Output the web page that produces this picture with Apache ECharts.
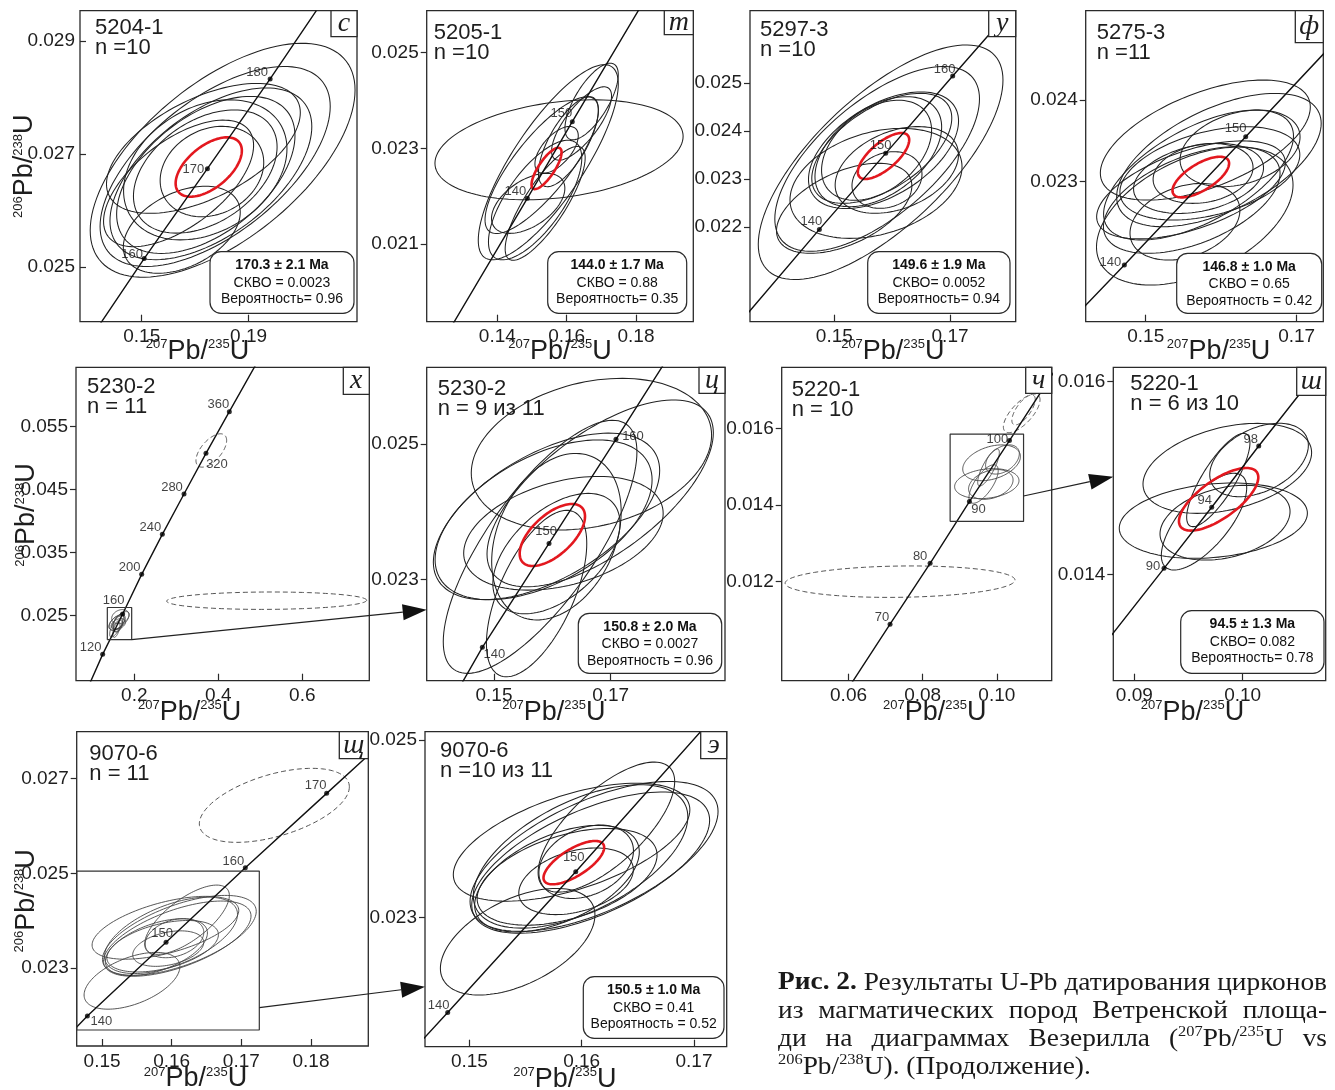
<!DOCTYPE html>
<html><head><meta charset="utf-8">
<script src="https://cdn.jsdelivr.net/npm/echarts@6/dist/echarts.min.js"></script>
<style>html,body{margin:0;padding:0;background:#fff}#chart{width:1335px;height:1090px}</style>
</head><body><div id="chart"></div>
<script>
// ================= DATA =================
// ellipse rows: [center 207Pb/235U, center 206Pb/238U, half-width x, half-height y, correlation]

// --- с : 5204-1
const cXRange = [0.12688, 0.23063], cYRange = [0.024032, 0.029537];
const cXTicks = ['0.15', '0.19'], cYTicks = ['0.025', '0.027', '0.029'];
const cAges = [160, 170, 180];
const cAgePts = [[0.1509, 0.02515], [0.1746, 0.02674], [0.1981, 0.02833]];
const cLineEnds = [[0.1317, 0.0238], [0.2154, 0.02954]];
const cEllipses = [
  [0.1803, 0.02689, 0.0496, 0.00207, 0.6], [0.1775, 0.02678, 0.0431, 0.00177, 0.6],
  [0.1759, 0.02665, 0.0378, 0.00152, 0.55], [0.1740, 0.02663, 0.0334, 0.00139, 0.5],
  [0.1738, 0.02672, 0.0306, 0.00124, 0.3], [0.1738, 0.02669, 0.0269, 0.00109, 0.4],
  [0.1763, 0.02669, 0.0194, 0.00080, 0.2], [0.1638, 0.02648, 0.0281, 0.00112, 0.6],
  [0.1650, 0.02566, 0.0219, 0.00077, 0.4], [0.1731, 0.02710, 0.0363, 0.00115, 0.55]];
const cMean = [0.1751, 0.02677, 0.0124, 0.000525, 0.55];
const cResult = ['170.3 ± 2.1 Ma', 'СКВО = 0.0023', 'Вероятность= 0.96'];

// --- т : 5205-1
const mXRange = [0.11962, 0.19654], mYRange = [0.019376, 0.025878];
const mXTicks = ['0.14', '0.16', '0.18'], mYTicks = ['0.021', '0.023', '0.025'];
const mAges = [140, 150];
const mAgePts = [[0.14865, 0.021955], [0.16163, 0.023557]];
const mLineEnds = [[0.1245, 0.0190], [0.1833, 0.0262]];
const mEllipses = [
  [0.1578, 0.02297, 0.0358, 0.001045, 0.27], [0.1547, 0.02271, 0.0202, 0.00204, 0.8],
  [0.1528, 0.02265, 0.01635, 0.00143, 0.8], [0.1509, 0.02192, 0.01346, 0.00125, 0.7],
  [0.1489, 0.02185, 0.01058, 0.000627, 0.5], [0.1571, 0.02297, 0.00625, 0.000488, 0.6],
  [0.1605, 0.02314, 0.00865, 0.000941, 0.7], [0.1538, 0.02185, 0.01154, 0.00119, 0.8],
  [0.1672, 0.02398, 0.00769, 0.000801, 0.7], [0.1643, 0.02352, 0.00865, 0.000767, 0.75]];
const mMean = [0.1542, 0.02258, 0.00433, 0.000432, 0.78];
const mResult = ['144.0 ± 1.7 Ma', 'СКВО = 0.88', 'Вероятность= 0.35'];

// --- у : 5297-3
const yXRange = [0.13542, 0.18135], yYRange = [0.020028, 0.026507];
const yXTicks = ['0.15', '0.17'], yYTicks = ['0.022', '0.023', '0.024', '0.025'];
const yAges = [140, 150, 160];
const yAgePts = [[0.14741, 0.021951], [0.15888, 0.023535], [0.17046, 0.025146]];
const yLineEnds = [[0.1336, 0.0200], [0.1804, 0.02651]];
const yEllipses = [
  [0.1580, 0.02335, 0.02115, 0.002444, 0.7], [0.1574, 0.02342, 0.01769, 0.001924, 0.65],
  [0.1585, 0.02360, 0.01297, 0.001215, 0.5], [0.1582, 0.02364, 0.0121, 0.001146, 0.55],
  [0.1576, 0.02357, 0.01095, 0.001146, 0.45], [0.1573, 0.02360, 0.00951, 0.001042, 0.4],
  [0.1572, 0.02291, 0.01487, 0.001146, 0.3], [0.1517, 0.02239, 0.0117, 0.000938, 0.5],
  [0.1591, 0.02298, 0.00605, 0.00059, 0.2], [0.1608, 0.02319, 0.01066, 0.000903, 0.35]];
const yMean = [0.1585, 0.02348, 0.00444, 0.000479, 0.7];
const yResult = ['149.6 ± 1.9 Ma', 'СКВО= 0.0052', 'Вероятность= 0.94'];

// --- ф : 5275-3
const fXRange = [0.14205, 0.17353], fYRange = [0.021286, 0.025094];
const fXTicks = ['0.15', '0.17'], fYTicks = ['0.023', '0.024'];
const fAges = [140, 150];
const fAgePts = [[0.14717, 0.02198], [0.16325, 0.023551]];
const fLineEnds = [[0.1410, 0.021385], [0.1745, 0.024658]];
const fEllipses = [
  [0.1579, 0.02351, 0.01391, 0.000735, 0.55], [0.1597, 0.023265, 0.01355, 0.000816, 0.55],
  [0.1565, 0.02258, 0.01302, 0.000845, 0.45], [0.1570, 0.023082, 0.01258, 0.000796, 0.6],
  [0.1561, 0.022776, 0.0117, 0.000653, 0.5], [0.1585, 0.023102, 0.01192, 0.000571, 0.4],
  [0.1570, 0.023041, 0.00861, 0.000429, 0.3], [0.1576, 0.023102, 0.00662, 0.000367, 0.2],
  [0.1552, 0.02251, 0.00728, 0.000469, 0.3], [0.1625, 0.023408, 0.00795, 0.000469, 0.3],
  [0.1560, 0.02290, 0.0125, 0.00060, 0.55]];
const fMean = [0.1573, 0.023057, 0.00375, 0.000249, 0.67];
const fResult = ['146.8 ± 1.0 Ma', 'СКВО = 0.65', 'Вероятность = 0.42'];

// --- х : 5230-2 (all 11)
const xXRange = [0.06111, 0.75952], xYRange = [0.014683, 0.064418];
const xXTicks = ['0.2', '0.4', '0.6'], xYTicks = ['0.025', '0.035', '0.045', '0.055'];
const xAges = [120, 160, 200, 240, 280, 320, 360];
const xAgePts = [[0.1246, 0.018862], [0.1722, 0.025265], [0.2175, 0.031561], [0.2667, 0.03791],
  [0.3183, 0.044312], [0.3706, 0.050767], [0.4262, 0.057381]];
const xLineEnds = [[0.0923, 0.0140], [0.4906, 0.0650]];
const xDashed = [[0.3833, 0.05122, 0.0365, 0.00265, 0.6], [0.5151, 0.02738, 0.2381, 0.00138, 0.05]];
const xInset = [[0.1357, 0.0212], [0.1937, 0.0263]];

// --- ц : 5230-2 (9 of 11)
const tsXRange = [0.13846, 0.1896], tsYRange = [0.021502, 0.026133];
const tsXTicks = ['0.15', '0.17'], tsYTicks = ['0.023', '0.025'];
const tsAges = [140, 150, 160];
const tsAgePts = [[0.1480, 0.021995], [0.15943, 0.02353], [0.17091, 0.025069]];
const tsLineEnds = [[0.1434, 0.0213], [0.1800, 0.0263]];
const tsEllipses = [
  [0.1667, 0.02485, 0.0206, 0.00112, 0.25], [0.1682, 0.02427, 0.0194, 0.00138, 0.65],
  [0.1590, 0.02393, 0.0194, 0.00123, 0.55], [0.1585, 0.02388, 0.0186, 0.00118, 0.5],
  [0.1579, 0.02348, 0.0166, 0.00187, 0.75], [0.1607, 0.02363, 0.0111, 0.00123, 0.3],
  [0.1573, 0.02279, 0.0086, 0.00123, 0.6], [0.1607, 0.02338, 0.0109, 0.00089, 0.5],
  [0.1619, 0.02368, 0.0171, 0.00084, 0.35]];
const tsMean = [0.1600, 0.023655, 0.0056, 0.000458, 0.6];
const tsResult = ['150.8 ± 2.0 Ma', 'СКВО = 0.0027', 'Вероятность = 0.96'];

// --- ч : 5220-1 (all 10)
const chXRange = [0.04198, 0.11479], chYRange = [0.009417, 0.017591];
const chXTicks = ['0.06', '0.08', '0.10'], chYTicks = ['0.012', '0.014', '0.016'];
const chAges = [70, 80, 90, 100];
const chAgePts = [[0.0712, 0.01089], [0.0820, 0.01248], [0.0926, 0.01409], [0.1034, 0.01568]];
const chLineEnds = [[0.0598, 0.0092], [0.1162, 0.01759]];
const chDashed = [[0.0739, 0.0120, 0.0310, 0.00041, 0.1], [0.1067, 0.01639, 0.00494, 0.000504, 0.7],
  [0.1072, 0.01648, 0.00315, 0.000391, 0.7]];
const chInset = [[0.0874, 0.01357], [0.1072, 0.01585]];

// --- ш : 5220-1 (6 of 10)
const shXRange = [0.08806, 0.10766], shYRange = [0.012896, 0.016149];
const shXTicks = ['0.09', '0.10'], shYTicks = ['0.014', '0.016'];
const shAges = [90, 94, 98];
const shAgePts = [[0.09274, 0.014062], [0.09714, 0.014696], [0.10148, 0.015332]];
const shLineEnds = [[0.0875, 0.01331], [0.1072, 0.01615]];
const shEllipses = [
  [0.09858, 0.0151, 0.00778, 0.000467, 0.35], [0.10151, 0.015187, 0.00455, 0.000381, 0.4],
  [0.09729, 0.014557, 0.00868, 0.000391, 0.2], [0.09837, 0.014536, 0.0060, 0.000388, 0.3],
  [0.09643, 0.014547, 0.00394, 0.000502, 0.7], [0.09775, 0.014979, 0.00292, 0.000484, 0.8]];
const shMean = [0.09778, 0.014779, 0.00366, 0.000325, 0.7];
const shResult = ['94.5 ± 1.3 Ma', 'СКВО= 0.082', 'Вероятность= 0.78'];

// --- щ : 9070-6 (all 11)
const schXRange = [0.14636, 0.18823], schYRange = [0.021352, 0.027993];
const schXTicks = ['0.15', '0.16', '0.17', '0.18'], schYTicks = ['0.023', '0.025', '0.027'];
const schAges = [140, 150, 160, 170];
const schAgePts = [[0.14789, 0.021986], [0.15919, 0.023542], [0.17057, 0.02512], [0.18225, 0.02669]];
const schLineEnds = [[0.1455, 0.02162], [0.1882, 0.02749]];
const schDashed = [[0.17474, 0.026437, 0.01077, 0.000782, 0.5]];
const schInset = [[0.14636, 0.02169], [0.17258, 0.025049]];

// --- э : 9070-6 (10 of 11)
const eXRange = [0.14605, 0.17291], eYRange = [0.021548, 0.025094];
const eXTicks = ['0.15', '0.16', '0.17'], eYTicks = ['0.023', '0.025'];
const eAges = [140, 150];
const eAgePts = [[0.14807, 0.021934], [0.15947, 0.023518]];
const eLineEnds = [[0.1455, 0.02158], [0.1714, 0.02521]];
const eEllipses = [
  [0.1591, 0.02385, 0.01053, 0.000664, 0.55], [0.1622, 0.02402, 0.00608, 0.000732, 0.7],
  [0.1611, 0.02369, 0.01104, 0.000844, 0.6], [0.1608, 0.02362, 0.01059, 0.000795, 0.6],
  [0.1599, 0.02369, 0.00955, 0.000807, 0.55], [0.1578, 0.02344, 0.00733, 0.0006, 0.5],
  [0.1587, 0.02346, 0.00801, 0.000544, 0.45], [0.1543, 0.02273, 0.00688, 0.0006, 0.5],
  [0.1604, 0.02363, 0.00421, 0.000413, 0.3], [0.1595, 0.02341, 0.0051, 0.000375, 0.35]];
const eMean = [0.1593, 0.02362, 0.0027, 0.000244, 0.7];
const eResult = ['150.5 ± 1.0 Ma', 'СКВО = 0.41', 'Вероятность = 0.52'];

// arrows between panels: [fromPanel, fromPoint, toPanel, toPoint]
const xArrow = [4, [0.1937, 0.0212], 5, [0.13846, 0.02255]];
const chArrow = [6, [0.1072, 0.014235], 7, [0.08806, 0.015014]];
const schArrow = [8, [0.17258, 0.022162], 9, [0.14605, 0.022223]];

// ================= PANEL ASSEMBLY =================
const panels = [
  {letter: 'с', sample: '5204-1', n: 'n =10', xr: cXRange, yr: cYRange, xt: cXTicks, yt: cYTicks, ages: cAges, pts: cAgePts, ends: cLineEnds, ell: cEllipses, mean: cMean, result: cResult},
  {letter: 'т', sample: '5205-1', n: 'n =10', xr: mXRange, yr: mYRange, xt: mXTicks, yt: mYTicks, ages: mAges, pts: mAgePts, ends: mLineEnds, ell: mEllipses, mean: mMean, result: mResult},
  {letter: 'у', sample: '5297-3', n: 'n =10', xr: yXRange, yr: yYRange, xt: yXTicks, yt: yYTicks, ages: yAges, pts: yAgePts, ends: yLineEnds, ell: yEllipses, mean: yMean, result: yResult},
  {letter: 'ф', sample: '5275-3', n: 'n =11', xr: fXRange, yr: fYRange, xt: fXTicks, yt: fYTicks, ages: fAges, pts: fAgePts, ends: fLineEnds, ell: fEllipses, mean: fMean, result: fResult},
  {letter: 'х', sample: '5230-2', n: 'n = 11', xr: xXRange, yr: xYRange, xt: xXTicks, yt: xYTicks, ages: xAges, pts: xAgePts, ends: xLineEnds, small: tsEllipses, dashed: xDashed, inset: xInset},
  {letter: 'ц', sample: '5230-2', n: 'n = 9 из 11', xr: tsXRange, yr: tsYRange, xt: tsXTicks, yt: tsYTicks, ages: tsAges, pts: tsAgePts, ends: tsLineEnds, ell: tsEllipses, mean: tsMean, result: tsResult},
  {letter: 'ч', sample: '5220-1', n: 'n = 10', xr: chXRange, yr: chYRange, xt: chXTicks, yt: chYTicks, ages: chAges, pts: chAgePts, ends: chLineEnds, small: shEllipses, dashed: chDashed, inset: chInset},
  {letter: 'ш', sample: '5220-1', n: 'n = 6 из 10', xr: shXRange, yr: shYRange, xt: shXTicks, yt: shYTicks, ages: shAges, pts: shAgePts, ends: shLineEnds, ell: shEllipses, mean: shMean, result: shResult},
  {letter: 'щ', sample: '9070-6', n: 'n = 11', xr: schXRange, yr: schYRange, xt: schXTicks, yt: schYTicks, ages: schAges, pts: schAgePts, ends: schLineEnds, small: eEllipses, dashed: schDashed, inset: schInset},
  {letter: 'э', sample: '9070-6', n: 'n =10 из 11', xr: eXRange, yr: eYRange, xt: eXTicks, yt: eYTicks, ages: eAges, pts: eAgePts, ends: eLineEnds, ell: eEllipses, mean: eMean, result: eResult}
];

// ================= LAYOUT / STYLE =================
const FONT = "'Liberation Sans', Arial, Helvetica, sans-serif";
const SERIF = "'Liberation Serif', 'Times New Roman', serif";
const INK = '#1e1e1e';
const layout = [
  {g: [80, 10.7, 277, 311], yIn: true, dx: -21, gap: 16, yGap: 42, yPad: [0, 0, 0, 0], lbl: [15, 17], box: [210, 251.7, 144, 61.6], lb: [26, 26], ageOff: [[-12, -4], [-14, 1], [-13, -6]]},
  {g: [426.7, 10.7, 266.6, 311], dx: 0, gap: 16, lbl: [7, 22], box: [547.7, 251.7, 139, 61.6], lb: [29, 24], ageOff: [[-12, -7], [-11, -8]]},
  {g: [750, 10.7, 265.7, 311], dx: 10, gap: 16, lbl: [10, 19.5], box: [867.7, 251.7, 142.3, 61.6], lb: [27, 26], ageOff: [[-8, -8], [-5, -8], [-8, -7]]},
  {g: [1085.7, 10.7, 237.6, 311], dx: 14, gap: 16, lbl: [11, 22], box: [1176.7, 253.3, 145, 60], lb: [28, 32], ageOff: [[-14, -3], [-10, -8]]},
  {g: [76, 367.3, 293.3, 313.4], dx: -33, gap: 18, yGap: 36, yPad: [0, 0, 0, 18], lbl: [11, 20], lb: [26, 27], ageOff: [[-12, -7], [-9, -14], [-12, -7], [-12, -7], [-12, -7], [11, 11], [-11, -7]]},
  {g: [426.7, 367.3, 298.3, 313.4], dx: -22, gap: 18, lbl: [11, 22], box: [578.3, 613.3, 143.4, 60], lb: [26, 26], ageOff: [[12, 7], [-3, -12], [17, -3]]},
  {g: [781.7, 367.3, 270, 313.4], dx: 18, gap: 18, lbl: [10, 23], lb: [26, 26], ageOff: [[-8, -7], [-10, -7], [9, 8], [-12, -1]]},
  {g: [1113.3, 367.3, 212.4, 313.4], dx: -27, gap: 18, lbl: [17, 17], box: [1180.7, 610.7, 143.3, 62.6], lb: [29, 28], ageOff: [[-11, -2], [-7, -7], [-8, -7]]},
  {g: [76.7, 731.7, 291.6, 314.3], dx: -27, gap: 19, yGap: 37, yPad: [0, 24, 0, 0], lbl: [12.6, 22.5], lb: [29, 27], ageOff: [[14, 5], [-4, -9], [-12, -6], [-11, -8]]},
  {g: [425, 731.7, 301.7, 315], dx: -11, gap: 19, lbl: [15, 19], box: [583.3, 976.7, 140.7, 61.6], lb: [26, 27], ageOff: [[-9, -7], [-2, -14]]}
];

const X_NAME = '{s|207}{b|Pb/}{s|235}{b|U}';
const Y_NAME = '{s|206}{b|Pb/}{s|238}{b|U}';
const nameRich = {
  s: {fontSize: 13, fontFamily: FONT, color: INK, padding: [0, 0, 13, 0]},
  b: {fontSize: 27, fontFamily: FONT, color: INK}
};

function fmt(arr) {
  return v => { for (const s of arr) if (Math.abs(Number(s) - v) < 1e-9) return s; return ''; };
}
function ellipseRender(style) {
  return function (params, api) {
    const cx = api.value(0), cy = api.value(1), sx = api.value(2), sy = api.value(3), r = api.value(4);
    const k = Math.sqrt(Math.max(0, 1 - r * r));
    const pts = [];
    for (let i = 0; i < 120; i++) {
      const t = i / 120 * Math.PI * 2;
      pts.push(api.coord([cx + sx * Math.cos(t), cy + sy * (r * Math.cos(t) + k * Math.sin(t))]));
    }
    return {type: 'polygon', shape: {points: pts}, style: Object.assign({fill: 'none'}, style), silent: true};
  };
}

const grids = [], xAxes = [], yAxes = [], series = [], graphics = [];
panels.forEach((p, i) => {
  const L = layout[i];
  grids.push({left: L.g[0], top: L.g[1], width: L.g[2], height: L.g[3], show: true,
    borderColor: '#2a2a2a', borderWidth: 1.3, backgroundColor: '#fff', containLabel: false, outerBoundsMode: 'none'});
  const xv = p.xt.map(Number), yv = p.yt.map(Number);
  const padX = L.dx >= 0 ? [0, 0, 0, 2 * L.dx] : [0, -2 * L.dx, 0, 0];
  xAxes.push({gridIndex: i, type: 'value', min: p.xr[0], max: p.xr[1],
    axisLine: {show: false, onZero: false}, splitLine: {show: false},
    axisTick: {show: true, inside: true, length: 7, customValues: xv, lineStyle: {color: '#2a2a2a', width: 1.2}},
    axisLabel: {show: true, customValues: xv, formatter: fmt(p.xt), fontSize: 19, color: INK, fontFamily: FONT, margin: 6},
    name: X_NAME, nameLocation: 'middle', nameGap: L.gap, nameMoveOverlap: false,
    nameTextStyle: {fontFamily: FONT, color: INK, rich: nameRich, padding: padX}});
  const ya = {gridIndex: i, type: 'value', min: p.yr[0], max: p.yr[1],
    axisLine: {show: false, onZero: false}, splitLine: {show: false},
    axisTick: {show: true, inside: !!L.yIn, length: 6, customValues: yv, lineStyle: {color: '#2a2a2a', width: 1.2}},
    axisLabel: {show: true, customValues: yv, formatter: fmt(p.yt), fontSize: 19, color: INK, fontFamily: FONT, margin: L.yIn ? 5 : 8}};
  if (L.yGap) {
    Object.assign(ya, {name: Y_NAME, nameLocation: 'middle', nameGap: L.yGap, nameRotate: 90, nameMoveOverlap: false,
      nameTextStyle: {fontFamily: FONT, color: INK, rich: nameRich, padding: L.yPad}});
  }
  yAxes.push(ya);
  const ax = {xAxisIndex: i, yAxisIndex: i};
  if (p.ell) series.push(Object.assign({type: 'custom', data: p.ell, clip: true, z: 2,
    renderItem: ellipseRender({stroke: '#222', lineWidth: 1.05})}, ax));
  if (p.small) series.push(Object.assign({type: 'custom', data: p.small, clip: true, z: 2,
    renderItem: ellipseRender({stroke: '#444', lineWidth: 0.9})}, ax));
  if (p.dashed) series.push(Object.assign({type: 'custom', data: p.dashed, clip: true, z: 2,
    renderItem: ellipseRender({stroke: '#555', lineWidth: 1, lineDash: [5, 3]})}, ax));
  if (p.mean) series.push(Object.assign({type: 'custom', data: [p.mean], clip: true, z: 3,
    renderItem: ellipseRender({stroke: '#e3181f', lineWidth: 2.6})}, ax));
  series.push(Object.assign({type: 'line', data: [p.ends[0], ...p.pts, p.ends[1]], showSymbol: false,
    clip: true, silent: true, z: 4, lineStyle: {color: '#111', width: 1.4}}, ax));
  if (p.inset) {
    const a = p.inset[0], b = p.inset[1];
    series.push(Object.assign({type: 'line', data: [[a[0], a[1]], [b[0], a[1]], [b[0], b[1]], [a[0], b[1]], [a[0], a[1]]],
      showSymbol: false, clip: false, silent: true, z: 4, lineStyle: {color: '#333', width: 1.2}}, ax));
  }
  series.push(Object.assign({type: 'scatter', z: 5, silent: true, symbolSize: 5, itemStyle: {color: '#000'},
    data: p.pts.map((pt, j) => ({value: pt, label: {offset: L.ageOff[j]}})),
    label: {show: true, position: 'inside', fontSize: 13, color: '#111', fontFamily: FONT,
      formatter: prm => String(p.ages[prm.dataIndex])}}, ax));

  // sample label
  graphics.push({type: 'text', z: 60, x: L.g[0] + L.lbl[0], y: L.g[1] + L.lbl[1],
    style: {text: p.sample, font: '22px ' + FONT, fill: INK, textAlign: 'left', textVerticalAlign: 'middle', align: 'left', verticalAlign: 'middle'}});
  graphics.push({type: 'text', z: 60, x: L.g[0] + L.lbl[0], y: L.g[1] + L.lbl[1] + 20,
    style: {text: p.n, font: '22px ' + FONT, fill: INK, textAlign: 'left', textVerticalAlign: 'middle', align: 'left', verticalAlign: 'middle'}});
  // letter box
  const rx = L.g[0] + L.g[2] - L.lb[0], ry = L.g[1];
  graphics.push({type: 'rect', z: 60, shape: {x: rx, y: ry, width: L.lb[0], height: L.lb[1]},
    style: {fill: '#fff', stroke: '#2a2a2a', lineWidth: 1.3}});
  graphics.push({type: 'text', z: 61, x: rx + L.lb[0] / 2, y: ry + L.lb[1] / 2,
    style: {text: p.letter, font: 'italic 28px ' + SERIF, fill: INK, textAlign: 'center', textVerticalAlign: 'middle', align: 'center', verticalAlign: 'middle'}});
  // result box
  if (p.result && L.box) {
    const b = L.box;
    graphics.push({type: 'rect', z: 60, shape: {x: b[0], y: b[1], width: b[2], height: b[3], r: 11},
      style: {fill: '#fff', stroke: '#2a2a2a', lineWidth: 1.2}});
    const cx = b[0] + b[2] / 2;
    [13.5, 31, 47.5].forEach((dy, k) => {
      graphics.push({type: 'text', z: 61, x: cx, y: b[1] + dy,
        style: {text: p.result[k], font: (k === 0 ? 'bold ' : '') + '14px ' + FONT, fill: '#111',
          textAlign: 'center', textVerticalAlign: 'middle', align: 'center', verticalAlign: 'middle'}});
    });
  }
});

// ================= CAPTION =================
const cv = document.createElement('canvas').getContext('2d');
function segFont(sg) { return (sg.b ? 'bold ' : '') + (sg.s ? 15 : 25) + "px 'Liberation Serif'"; }
function segW(sg) { cv.font = segFont(sg); return cv.measureText(sg.t).width; }
const capLines = [
  [[{t: 'Рис. 2.', b: true}], [{t: 'Результаты'}], [{t: 'U-Pb'}], [{t: 'датирования'}], [{t: 'цирконов'}]],
  [[{t: 'из'}], [{t: 'магматических'}], [{t: 'пород'}], [{t: 'Ветренской'}], [{t: 'площа-'}]],
  [[{t: 'ди'}], [{t: 'на'}], [{t: 'диаграммах'}], [{t: 'Везерилла'}], [{t: '('}, {t: '207', s: true}, {t: 'Pb/'}, {t: '235', s: true}, {t: 'U'}], [{t: 'vs'}]],
  [[{t: '206', s: true}, {t: 'Pb/'}, {t: '238', s: true}, {t: 'U).'}], [{t: '(Продолжение).'}]]
];
const justify = [true, true, true, false];
const capX0 = 778, capX1 = 1327, capY = [983, 1011, 1039, 1067];
const spaceW = segW({t: ' '});
// horizontal scale chosen so that line 1 with ordinary spaces fills the caption width
const line1Nat = capLines[0].reduce((a, w) => a + w.reduce((b, sg) => b + segW(sg), 0), 0) + spaceW * (capLines[0].length - 1);
const sX = (capX1 - capX0) / line1Nat;
capLines.forEach((words, li) => {
  const ww = words.map(w => w.reduce((a, sg) => a + segW(sg) * sX, 0));
  const total = ww.reduce((a, b) => a + b, 0);
  const gapW = justify[li] ? (capX1 - capX0 - total) / (words.length - 1) : spaceW * sX;
  let x = capX0;
  words.forEach((w, wi) => {
    let xx = x;
    w.forEach(sg => {
      graphics.push({type: 'text', z: 60, x: xx, y: capY[li] + (sg.s ? -7 : 0), scaleX: sX, scaleY: 1,
        style: {text: sg.t, font: segFont(sg), fill: '#1a1a1a', textAlign: 'left', textVerticalAlign: 'middle', align: 'left', verticalAlign: 'middle'}});
      xx += segW(sg) * sX;
    });
    x += ww[wi] + gapW;
  });
});

// ================= RENDER =================
const chart = echarts.init(document.getElementById('chart'), null, {renderer: 'canvas'});
const option = {animation: false, backgroundColor: '#fff', grid: grids, xAxis: xAxes, yAxis: yAxes, series: series, graphic: {elements: graphics}};
chart.setOption(option);

// connecting arrows, positioned through the axes of the two panels
[xArrow, chArrow, schArrow].forEach(a => {
  const p0 = chart.convertToPixel({gridIndex: a[0]}, a[1]);
  const p1 = chart.convertToPixel({gridIndex: a[2]}, a[3]);
  const dx = p1[0] - p0[0], dy = p1[1] - p0[1], len = Math.hypot(dx, dy);
  const ux = dx / len, uy = dy / len, hl = 24, hw = 8;
  const bx = p1[0] - ux * hl, by = p1[1] - uy * hl;
  graphics.push({type: 'line', z: 55, shape: {x1: p0[0], y1: p0[1], x2: bx, y2: by}, style: {stroke: '#222', lineWidth: 1.2}});
  graphics.push({type: 'polygon', z: 55, shape: {points: [[p1[0], p1[1]], [bx - uy * hw, by + ux * hw], [bx + uy * hw, by - ux * hw]]}, style: {fill: '#111'}});
});
option.graphic = {elements: graphics};
chart.setOption(option, true);
</script></body></html>
